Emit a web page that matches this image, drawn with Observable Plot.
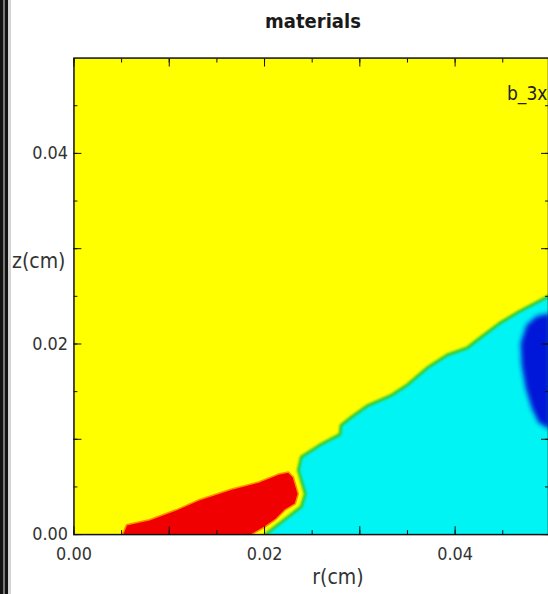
<!DOCTYPE html>
<html>
<head>
<meta charset="utf-8">
<script src="https://cdn.jsdelivr.net/npm/d3@7"></script>
<script src="https://cdn.jsdelivr.net/npm/@observablehq/plot@0.6"></script>
<style>
html, body { margin: 0; padding: 0; background: #fff; overflow: hidden; }
#wrap { position: relative; width: 548px; height: 594px; overflow: hidden; background: #fff; }
#chart { position: absolute; left: 0; top: 0; }
.lbl { position: absolute; font-family: "DejaVu Sans Condensed", "DejaVu Sans", sans-serif; font-stretch: condensed; color: #333; white-space: nowrap; }
#title { left: 213px; width: 200px; top: 11px; text-align: center; font-size: 20px; line-height: 20px; font-weight: bold; color: #1a1a1a; }
#xlabel { left: 288px; width: 100px; top: 567px; text-align: center; font-size: 21px; line-height: 21px; }
#ylabel { left: 12px; top: 251px; font-size: 21px; line-height: 21px; }
#db { left: 507px; top: 84px; font-size: 19px; line-height: 19px; color: #222; }
#border { position: absolute; left: 0; top: 0; width: 11px; height: 594px;
  background: linear-gradient(to right, #111 0, #111 3px, #777 3px, #777 5px, #111 5px, #111 8px, #d4d4d4 8px, #d4d4d4 11px); }
</style>
</head>
<body>
<div id="wrap">
  <div id="chart"></div>
  <div id="border"></div>
  <div class="lbl" id="title">materials</div>
  <div class="lbl" id="ylabel">z(cm)</div>
  <div class="lbl" id="xlabel">r(cm)</div>
  <div class="lbl" id="db">b_3x</div>
</div>
<script>
// ---- tick values ----
const rMinorTicks = [0, 0.005, 0.01, 0.015, 0.02, 0.025, 0.03, 0.035, 0.04, 0.045];
const rMajorTicks = [0, 0.01, 0.02, 0.03, 0.04];
const rTickLabels = [0, 0.02, 0.04];
const zMinorTicks = [0, 0.005, 0.01, 0.015, 0.02, 0.025, 0.03, 0.035, 0.04, 0.045];
const zMajorTicks = [0, 0.01, 0.02, 0.03, 0.04];
const zTickLabels = [0, 0.02, 0.04];

// ---- material boundaries (r, z in cm) ----
// cyan material: boundary from the axis near the lens, up along the yellow interface, to the right edge
const cyanR = [0.02010, 0.02073, 0.02250, 0.02385, 0.02427, 0.02354, 0.02385, 0.02594, 0.02792, 0.02802,
               0.02906, 0.03083, 0.03323, 0.03500, 0.03708, 0.03917, 0.04125, 0.04260, 0.04469, 0.04677,
               0.04938, 0.05000, 0.05000];
const cyanZ = [0.00000, 0.00052, 0.00188, 0.00292, 0.00427, 0.00677, 0.00813, 0.00948, 0.01052, 0.01146,
               0.01229, 0.01354, 0.01458, 0.01573, 0.01750, 0.01885, 0.01958, 0.02063, 0.02219, 0.02344,
               0.02479, 0.02510, 0.00000];
// red lens sitting on the axis
const redR = [0.00510, 0.00552, 0.00792, 0.01073, 0.01313, 0.01656, 0.01938, 0.02146, 0.02250, 0.02302,
              0.02354, 0.02323, 0.02219, 0.02115, 0.02010, 0.01865];
const redZ = [0.00000, 0.00104, 0.00156, 0.00260, 0.00365, 0.00479, 0.00552, 0.00635, 0.00656, 0.00604,
              0.00427, 0.00323, 0.00260, 0.00156, 0.00083, 0.00000];
// dark blue material at the right edge
const blueR = [0.05000, 0.04854, 0.04750, 0.04688, 0.04698, 0.04740, 0.04802, 0.04875, 0.05000];
const blueZ = [0.02323, 0.02292, 0.02198, 0.02010, 0.01781, 0.01542, 0.01333, 0.01177, 0.01104];

const toPts = (R, Z) => R.map((r, i) => ({r, z: Z[i]}));
const cyan = toPts(cyanR, cyanZ);
const red = toPts(redR, redZ);
const blue = toPts(blueR, blueZ);

const YELLOW = "#ffff00", CYAN = "#00f4f4", RED = "#f00000", BLUE = "#0018d8", GREEN = "#30cc30", ORANGE = "#ff8a00";
const INK = "#111";
const fmt = d => d.toFixed(2);
const none = () => "";

const svg = Plot.plot({
  width: 552,
  height: 594,
  marginTop: 58,
  marginBottom: 56,
  marginLeft: 74,
  marginRight: 0,
  x: {domain: [0, 0.0498]},
  y: {domain: [0, 0.05]},
  style: {fontFamily: "'DejaVu Sans Condensed', 'DejaVu Sans', sans-serif", fontSize: "18px", color: INK, background: "transparent"},
  marks: [
    Plot.frame({fill: YELLOW, stroke: null}),
    Plot.line(cyan, {x: "r", y: "z", fill: CYAN, stroke: "none", clip: true}),
    Plot.line(cyan, {x: "r", y: "z", stroke: GREEN, strokeWidth: 3, fill: "none", clip: true, ariaDescription: "cyan-fringe"}),
    Plot.line(blue, {x: "r", y: "z", fill: BLUE, stroke: "none", clip: true, ariaDescription: "blue-region"}),
    Plot.line(red, {x: "r", y: "z", fill: RED, stroke: ORANGE, strokeWidth: 1.5, clip: true, ariaDescription: "red-lens"}),
    // inward ticks
    Plot.axisX(rMinorTicks, {anchor: "bottom", tickSize: -4, tickFormat: none, label: null, stroke: INK}),
    Plot.axisX(rMajorTicks, {anchor: "bottom", tickSize: -8, tickFormat: none, label: null, stroke: INK}),
    Plot.axisX(rMinorTicks, {anchor: "top", tickSize: -4, tickFormat: none, label: null, stroke: INK}),
    Plot.axisX(rMajorTicks, {anchor: "top", tickSize: -8, tickFormat: none, label: null, stroke: INK}),
    Plot.axisY(zMinorTicks, {anchor: "left", tickSize: -4, tickFormat: none, label: null, stroke: INK}),
    Plot.axisY(zMajorTicks, {anchor: "left", tickSize: -8, tickFormat: none, label: null, stroke: INK}),
    Plot.axisY(zMinorTicks, {anchor: "right", tickSize: -4, tickFormat: none, label: null, stroke: INK}),
    Plot.axisY(zMajorTicks, {anchor: "right", tickSize: -8, tickFormat: none, label: null, stroke: INK}),
    // tick labels
    Plot.axisX(rTickLabels, {anchor: "bottom", tickSize: 0, tickPadding: 13, tickFormat: fmt, label: null, fill: "#333"}),
    Plot.axisY(zTickLabels, {anchor: "left", tickSize: 0, tickPadding: 6, tickFormat: fmt, label: null, fill: "#333"}),
    Plot.frame({stroke: INK, strokeWidth: 1.5, fill: "none"})
  ]
});

// soft, interpolated-looking material edges
const ns = "http://www.w3.org/2000/svg";
const defs = document.createElementNS(ns, "defs");
function addBlur(id, sd) {
  const f = document.createElementNS(ns, "filter");
  f.setAttribute("id", id);
  f.setAttribute("filterUnits", "userSpaceOnUse");
  f.setAttribute("x", "0"); f.setAttribute("y", "0");
  f.setAttribute("width", "600"); f.setAttribute("height", "600");
  const b = document.createElementNS(ns, "feGaussianBlur");
  b.setAttribute("stdDeviation", String(sd));
  f.appendChild(b);
  defs.appendChild(f);
}
addBlur("blurBlue", 2.6);
addBlur("blurEdge", 0.9);
addBlur("blurLens", 0.5);
svg.insertBefore(defs, svg.firstChild);
const setF = (label, id) => {
  const g = svg.querySelector('[aria-description="' + label + '"]');
  if (g) g.setAttribute("filter", "url(#" + id + ")");
};
setF("blue-region", "blurBlue");
setF("cyan-fringe", "blurEdge");
setF("red-lens", "blurLens");

document.getElementById("chart").appendChild(svg);
</script>
</body>
</html>
